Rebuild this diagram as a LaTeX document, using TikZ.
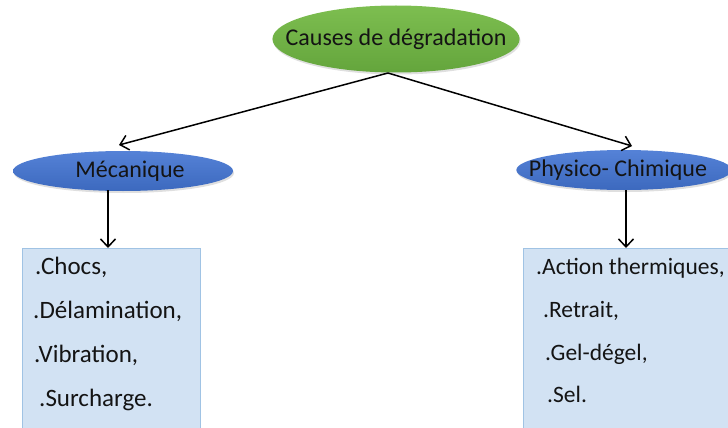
\documentclass[tikz,border=0pt]{standalone}
\usepackage{fontspec}
\setmainfont{Carlito}
\usetikzlibrary{shapes.geometric,arrows.meta,shadows}
\definecolor{gtop}{RGB}{125,190,80}
\definecolor{gbot}{RGB}{100,165,60}
\definecolor{btop}{RGB}{85,130,215}
\definecolor{bbot}{RGB}{60,105,190}
\definecolor{boxfill}{RGB}{210,226,243}
\definecolor{boxline}{RGB}{160,195,228}
\definecolor{txt}{RGB}{20,20,20}
\tikzset{
  greenell/.style={ellipse, inner sep=0pt, top color=gtop, bottom color=gbot,
    drop shadow={shadow xshift=1pt, shadow yshift=-2pt, opacity=0.25},
    font=\fontsize{24}{28}\selectfont, text=txt},
  blueell/.style={ellipse, inner sep=0pt, top color=btop, bottom color=bbot,
    drop shadow={shadow xshift=1pt, shadow yshift=-2pt, opacity=0.25},
    font=\fontsize{24}{28}\selectfont, text=txt},
  listbox/.style={draw=boxline, line width=1pt, fill=boxfill},
  item/.style={anchor=base west, inner sep=0pt, font=\fontsize{25}{30}\selectfont, text=txt},
  ritem/.style={item, font=\fontsize{23.5}{28}\selectfont},
  arr/.style={-{Straight Barb[length=8pt,width=15pt]}, line width=1.5pt, black}
}
\begin{document}
\begin{tikzpicture}[x=1pt,y=-1pt]
\useasboundingbox (0,0) rectangle (728,428);
% boxes
\node[listbox, anchor=north west, minimum width=178, minimum height=190, inner sep=0] (lbox) at (22,248) {};
\node[listbox, anchor=north west, minimum width=220, minimum height=190, inner sep=0] (rbox) at (523,248) {};
% ellipses
\node[greenell, inner xsep=-23pt, inner ysep=9pt, minimum width=245, minimum height=67] (top) at (396,39) {Causes de dégradation};
\node[blueell, inner xsep=0pt, minimum width=220, minimum height=40] (left) at (123,171) {\hspace*{14pt}Mécanique};
\node[blueell, inner xsep=-19pt, minimum width=214, minimum height=40] (right) at (624,170) {Physico- Chimique\hspace*{12pt}};
% list items
\node[item] (l1) at (35,274) {.Chocs,};
\node[item] (l2) at (33,318) {.Délamination,};
\node[item] (l3) at (34,362) {.Vibration,};
\node[item] (l4) at (39,406) {.Surcharge.};
\node[ritem] (r1) at (536,274) {.Action thermiques,};
\node[ritem] (r2) at (543,317) {.Retrait,};
\node[ritem] (r3) at (545,360) {.Gel-dégel,};
\node[ritem] (r4) at (547,402) {.Sel.};
% connectors
\coordinate (ts) at (388,73);
\coordinate (le) at (119,145);
\coordinate (re) at (632,146);
\draw[arr] (ts) -- (le);
\draw[arr] (ts) -- (re);
\coordinate (la) at (108,190);
\coordinate (ra) at (626,190);
\draw[arr] (la) -- (la |- lbox.north);
\draw[arr] (ra) -- (ra |- rbox.north);
\end{tikzpicture}
\end{document}
